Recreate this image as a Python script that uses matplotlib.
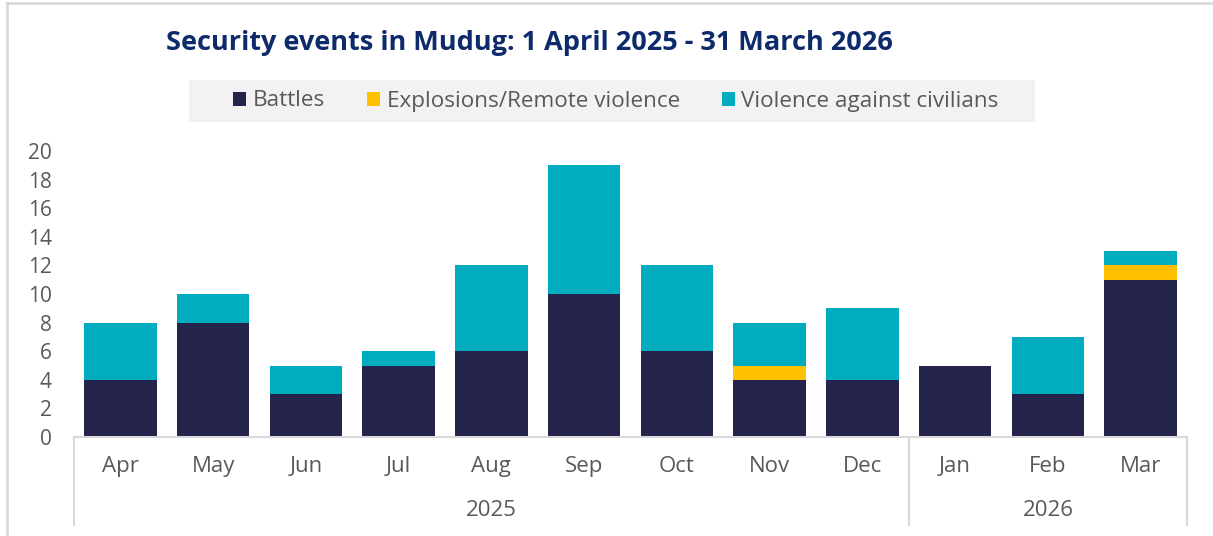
import matplotlib
matplotlib.use("Agg")
import matplotlib.pyplot as plt
import matplotlib.transforms as mtransforms
from matplotlib.lines import Line2D
from matplotlib.patches import Rectangle, Patch
import numpy as np

plt.rcParams["font.family"] = ["Open Sans", "DejaVu Sans"]

# ---- data
months = ["Apr", "May", "Jun", "Jul", "Aug", "Sep", "Oct", "Nov", "Dec",
          "Jan", "Feb", "Mar"]
years = ["2025", "2026"]
year_spans = [(0, 8), (9, 11)]          # first / last month index per year
battles = [4, 8, 3, 5, 6, 10, 6, 4, 4, 5, 3, 11]
explosions = [0, 0, 0, 0, 0, 0, 0, 1, 0, 0, 0, 1]
violence_civ = [4, 2, 2, 1, 6, 9, 6, 3, 5, 0, 4, 1]
series_names = ["Battles", "Explosions/Remote violence",
                "Violence against civilians"]

colors = ["#24234c", "#ffc000", "#00acbd"]
text_col = "#595959"
grid_col = "#d9d9d9"

W, H = 1213, 536
fig = plt.figure(figsize=(W / 100, H / 100), dpi=100)
ax = fig.add_axes([74 / W, 1 - 437 / H, (1187 - 74) / W, (437 - 151) / H])

x = np.arange(len(months))
bottom = np.zeros(len(months))
for vals, c in zip([battles, explosions, violence_civ], colors):
    vals = np.array(vals, dtype=float)
    ax.bar(x, vals, width=0.78, bottom=bottom, color=c, linewidth=0)
    bottom += vals

ax.set_xlim(-0.5, len(months) - 0.5)
ax.set_ylim(0, 20)
ax.set_yticks(range(0, 21, 2))
ax.tick_params(axis="y", length=0, pad=16, labelsize=15, labelcolor=text_col)
ax.set_xticks([])
for side in ["top", "right", "left"]:
    ax.spines[side].set_visible(False)
ax.spines["bottom"].set_color(grid_col)
ax.spines["bottom"].set_linewidth(1.5)

# ---- two-level category axis
trans = mtransforms.blended_transform_factory(ax.transData, ax.transAxes)
for i, m in enumerate(months):
    ax.text(i, -0.103, m, transform=trans, ha="center", va="center",
            fontsize=16, color=text_col)
for yr, (a, b) in zip(years, year_spans):
    ax.text((a + b) / 2, -0.256, yr, transform=trans, ha="center",
            va="center", fontsize=16, color=text_col)
for xb in [-0.5, 8.5, 11.5]:
    ax.add_line(Line2D([xb, xb], [0, -0.308], transform=trans, color=grid_col,
                       linewidth=1.5, clip_on=False))

# ---- title
fig.text(529 / W, 1 - 43 / H,
         "Security events in Mudug: 1 April 2025 - 31 March 2026",
         ha="center", va="center", fontsize=19.5, fontweight="bold",
         color="#0d2a6b")

# ---- legend on a grey band
fig.add_artist(Rectangle((189 / W, 1 - 122 / H), (1035 - 189) / W, 42 / H,
                         transform=fig.transFigure, facecolor="#f2f2f2",
                         edgecolor="none"))
handles = [Patch(facecolor=c, edgecolor="none") for c in colors]
fig.legend(handles, series_names, loc="center", ncol=3,
           bbox_to_anchor=(616 / W, 1 - 101 / H), frameon=False,
           fontsize=16.2, labelcolor=text_col, handlelength=0.58,
           handleheight=0.58, handletextpad=0.3, columnspacing=1.85)

# ---- light frame (left and top edges visible)
fig.add_artist(Line2D([7 / W, 7 / W], [0, 1 - 3 / H], transform=fig.transFigure,
                      color=grid_col, linewidth=2))
fig.add_artist(Line2D([7 / W, 1], [1 - 3 / H, 1 - 3 / H],
                      transform=fig.transFigure, color=grid_col, linewidth=2))

fig.savefig("out.png", dpi=100)
